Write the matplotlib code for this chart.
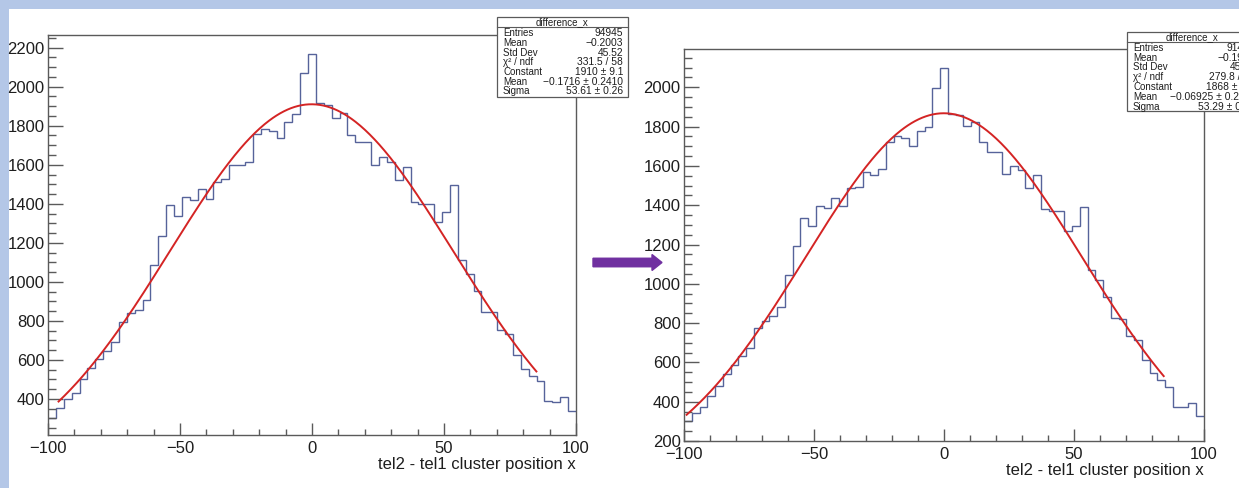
import numpy as np
import matplotlib
matplotlib.use("Agg")
import matplotlib.pyplot as plt
from matplotlib.patches import Rectangle, FancyArrow
from matplotlib.lines import Line2D
from matplotlib.ticker import MultipleLocator

plt.rcParams['font.family'] = ['Liberation Sans', 'DejaVu Sans']

W, H = 1239, 488

# histogram binning: 67 bins between -100 and 100
n_bins = 67
x_min, x_max = -100, 100

counts_before = [302, 355, 398, 432, 500, 559, 605, 644, 691, 796,
                 838, 857, 909, 1086, 1234, 1396, 1336, 1434, 1421, 1478,
                 1425, 1512, 1529, 1597, 1597, 1614, 1757, 1782, 1772, 1738,
                 1817, 1859, 2071, 2170, 1917, 1905, 1842, 1865, 1754, 1718,
                 1715, 1598, 1640, 1614, 1521, 1587, 1411, 1400, 1400, 1308,
                 1356, 1494, 1114, 1038, 951, 843, 843, 753, 734, 625,
                 555, 518, 493, 389, 385, 408, 337]

counts_after = [300, 345, 373, 428, 482, 541, 586, 635, 672, 774,
                813, 837, 881, 1046, 1193, 1337, 1295, 1396, 1388, 1438,
                1396, 1490, 1493, 1569, 1556, 1582, 1724, 1753, 1741, 1702,
                1778, 1800, 1998, 2100, 1863, 1860, 1802, 1822, 1720, 1670,
                1670, 1561, 1600, 1581, 1490, 1553, 1383, 1370, 1370, 1267,
                1294, 1389, 1072, 1020, 932, 826, 822, 735, 716, 612,
                548, 510, 475, 375, 375, 395, 325]

# gaussian fit results: constant, mean, sigma, and the fit range
fit_before = (1910, -0.1716, 53.61)
fit_after = (1868, -0.06925, 53.29)
range_before = (-96, 85)
range_after = (-99, 84.5)

stat_names = ["Entries", "Mean", "Std Dev", "\u03c7\u00b2 / ndf", "Constant", "Mean", "Sigma"]
stats_before = ["94945", "\u22120.2003", "45.52", "331.5 / 58",
                "1910 \u00b1 9.1", "\u22120.1716 \u00b1 0.2410", "53.61 \u00b1 0.26"]
stats_after = ["91427", "\u22120.1937", "45.38", "279.8 / 59",
               "1868 \u00b1 9.0", "\u22120.06925 \u00b1 0.2411", "53.29 \u00b1 0.26"]

hist_color = "#56639a"
fit_color = "#d42424"
frame_color = "#5a5a5a"
text_color = "#1e1e1e"


def fx(px):
    return px / W


def fy(py):
    return 1 - py / H


fig = plt.figure(figsize=(W / 100, H / 100), dpi=100, facecolor="#b4c7e7")
# white slide area
fig.patches.append(Rectangle((fx(9), 0), 1, fy(9), transform=fig.transFigure,
                             facecolor="white", edgecolor="none", zorder=-5))


def draw_panel(rect, counts, fit, fit_range, ylim, box, stats, val_shift=0):
    ax = fig.add_axes(rect)
    ax.patch.set_alpha(0)
    edges = np.linspace(x_min, x_max, n_bins + 1)
    ax.stairs(counts, edges, baseline=None, color=hist_color, lw=1.0)

    c, mu, sig = fit
    x = np.linspace(fit_range[0], fit_range[1], 400)
    ax.plot(x, c * np.exp(-0.5 * ((x - mu) / sig) ** 2), color=fit_color, lw=1.4)

    ax.set_xlim(x_min, x_max)
    ax.set_ylim(*ylim)
    ax.xaxis.set_major_locator(MultipleLocator(50))
    ax.xaxis.set_minor_locator(MultipleLocator(10))
    ax.yaxis.set_major_locator(MultipleLocator(200))
    ax.yaxis.set_minor_locator(MultipleLocator(50))
    ax.tick_params(axis='y', which='major', direction='in', length=11, width=1,
                   color=frame_color, labelsize=12, labelcolor=text_color, pad=2.5)
    ax.tick_params(axis='y', which='minor', direction='in', length=5.5, width=1,
                   color=frame_color)
    ax.tick_params(axis='x', which='major', direction='in', length=8.5, width=1,
                   color=frame_color, labelsize=12, labelcolor=text_color, pad=4)
    ax.tick_params(axis='x', which='minor', direction='in', length=4, width=1,
                   color=frame_color)
    for s in ax.spines.values():
        s.set_color(frame_color)
        s.set_linewidth(1.0)

    ax.set_xlabel("tel2 - tel1 cluster position x", loc='right', fontsize=12,
                  color=text_color)
    ax.xaxis.label.set_va('center')
    ax.xaxis.set_label_coords(1.0, -0.074)

    # stats box
    left, top, bw, bh = box
    fig.add_artist(Rectangle((fx(left), fy(top + bh)), bw / W, bh / H,
                             transform=fig.transFigure, facecolor="white",
                             edgecolor=frame_color, lw=0.9, zorder=5))
    fig.add_artist(Line2D([fx(left), fx(left + bw)], [fy(top + 10), fy(top + 10)],
                          transform=fig.transFigure, color=frame_color, lw=0.8, zorder=6))
    fig.text(fx(left + bw / 2), fy(top + 5), "difference_x", ha='center', va='center',
             fontsize=7, color=text_color, zorder=7)
    for i, (name, val) in enumerate(zip(stat_names, stats)):
        yy = fy(top + 16 + 9.75 * i)
        fig.text(fx(left + 6), yy, name, ha='left', va='center', fontsize=7,
                 color=text_color, zorder=7)
        fig.text(fx(left + bw - 5 + val_shift), yy, val, ha='right', va='center',
                 fontsize=7.4, color=text_color, zorder=7)
    return ax


draw_panel([fx(48), fy(435), 528 / W, 400 / H], counts_before, fit_before,
           range_before, (215, 2265), (497, 17, 131, 80), stats_before)
draw_panel([fx(684), fy(441), 520 / W, 392 / H], counts_after, fit_after,
           range_after, (200, 2195), (1127, 32, 131, 79), stats_after, val_shift=2)

# arrow between the two panels
fig.add_artist(FancyArrow(fx(593), fy(262.5), (662 - 593) / W, 0,
                          width=8.5 / H, head_width=16 / H, head_length=10 / W,
                          length_includes_head=True, color="#7030a0",
                          transform=fig.transFigure))

fig.savefig("out.png", dpi=100, facecolor=fig.get_facecolor())
